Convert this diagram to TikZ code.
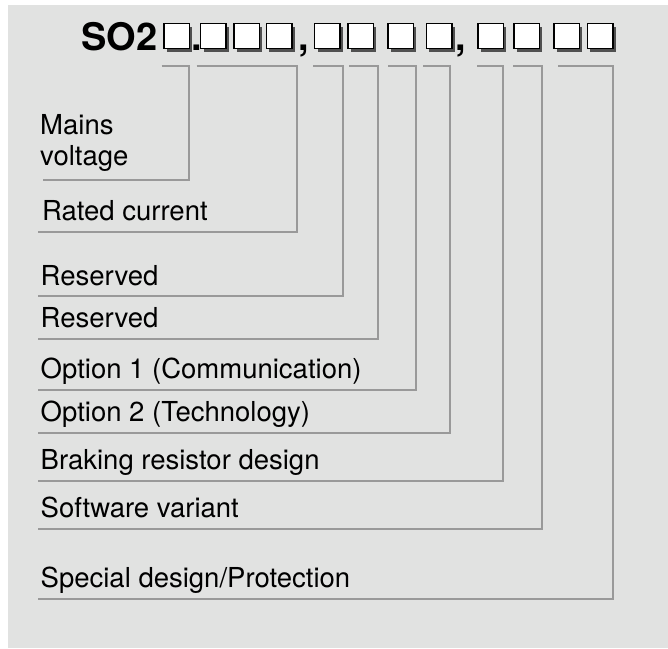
\documentclass[tikz,border=0pt]{standalone}
\usepackage{fontspec}
\setmainfont{TeX Gyre Heros}
\usetikzlibrary{shadows}
\definecolor{bggray}{HTML}{E1E2E1}
\definecolor{linegray}{HTML}{999999}
\definecolor{shadegray}{HTML}{505050}
\begin{document}
\begin{tikzpicture}[x=1pt,y=-1pt,
  leader/.style={draw=linegray, line width=2pt},
  lbl/.style={anchor=base west, inner sep=0pt, align=left, font=\fontsize{27.5}{31}\selectfont},
  big/.style={anchor=base west, inner sep=0pt, font=\bfseries\fontsize{38}{40}\selectfont},
  digit/.style={draw=black, line width=1.4pt, fill=white, minimum width=25.4pt, minimum height=25pt,
    inner sep=0pt, anchor=north west,
    drop shadow={shadow xshift=2.8pt, shadow yshift=-2.8pt, fill=shadegray, opacity=1}}]
\useasboundingbox (0,0) rectangle (668,648);
\fill[bggray] (8,5) rectangle (668,648);

% title and digit boxes
\node[big] (so) at (81,50) {SO2};
\node[digit] (b1)  at (163.4,23) {};
\node[big] (dot) at (191.5,50) {.};
\node[digit] (b2)  at (200,23) {};
\node[digit] (b3)  at (233.4,23) {};
\node[digit] (b4)  at (265.7,23) {};
\node[big] (cm1) at (298.5,50) {,};
\node[digit] (b5)  at (314,23) {};
\node[digit] (b6)  at (347.4,23) {};
\node[digit] (b7)  at (387.4,23) {};
\node[digit] (b8)  at (425.7,23) {};
\node[big] (cm2) at (455,50) {,};
\node[digit] (b9)  at (477.4,23) {};
\node[digit] (b10) at (513.4,23) {};
\node[digit] (b11) at (553.4,23) {};
\node[digit] (b12) at (586.7,23) {};

% labels
\node[lbl] (l1) at (40,165) {Mains\\voltage};
\node[lbl] (l2) at (42,220) {Rated current};
\node[lbl] (l3) at (40.5,285) {Reserved};
\node[lbl] (l4) at (40.5,327) {Reserved};
\node[lbl] (l5) at (40.5,378) {Option 1 (Communication)};
\node[lbl] (l6) at (40.5,421) {Option 2 (Technology)};
\node[lbl] (l7) at (40.5,469) {Braking resistor design};
\node[lbl] (l8) at (40.5,517) {Software variant};
\node[lbl] (l9) at (40.5,587) {Special design/Protection};

% leader coordinates
\coordinate (s1) at (161.7,66);  \coordinate (k1) at (189,180);   \coordinate (e1) at (43,180);
\coordinate (s2) at (196.7,66);  \coordinate (k2) at (296.7,232); \coordinate (e2) at (38,232);
\coordinate (s3) at (313,66);    \coordinate (k3) at (343,296);   \coordinate (e3) at (38,296);
\coordinate (s4) at (349,66);    \coordinate (k4) at (377.5,339); \coordinate (e4) at (38,339);
\coordinate (s5) at (388,66);    \coordinate (k5) at (416,390);   \coordinate (e5) at (38,390);
\coordinate (s6) at (423,66);    \coordinate (k6) at (450,433);   \coordinate (e6) at (38,433);
\coordinate (s7) at (477,66);    \coordinate (k7) at (503,481);   \coordinate (e7) at (38,481);
\coordinate (s8) at (513,66);    \coordinate (k8) at (542,529);   \coordinate (e8) at (38,529);
\coordinate (s9) at (558,66);    \coordinate (k9) at (613,599);   \coordinate (e9) at (38,599);

\foreach \i in {1,...,9}{
  \draw[leader] (s\i) -| (k\i) -- (e\i);
}
\end{tikzpicture}
\end{document}
